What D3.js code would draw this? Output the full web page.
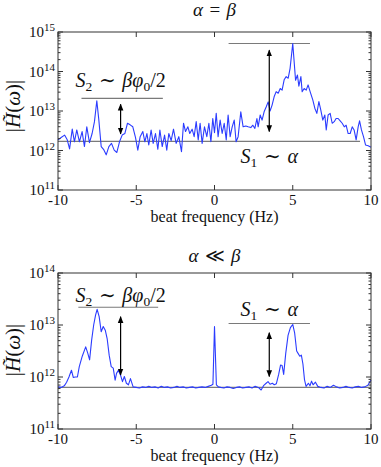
<!DOCTYPE html>
<html>
<head>
<meta charset="utf-8">
<script src="https://cdn.jsdelivr.net/npm/d3@7"></script>
<style>
  body { margin: 0; background: #fff; }
</style>
</head>
<body>
<div id="chart"></div>
<script>
// DATA
// beat frequency (Hz) and log10 |H(w)|
var topFreq = [-10.0, -9.80, -9.58, -9.41, -9.26, -9.09, -8.95, -8.80, -8.63, -8.46, -8.31, -8.16, -7.99, -7.82, -7.67, -7.52, -7.39, -7.24, -7.09, -6.92,
  -6.75, -6.58, -6.41, -6.24, -6.07, -5.90, -5.73, -5.56, -5.39, -5.22, -5.05, -4.90, -4.75, -4.58, -4.45, -4.32, -4.20, -4.05, -3.92, -3.77,
  -3.62, -3.49, -3.34, -3.19, -3.05, -2.92, -2.77, -2.62, -2.45, -2.28, -2.11, -1.98, -1.85, -1.70, -1.58, -1.43, -1.30, -1.17, -1.04, -0.92,
  -0.79, -0.64, -0.49, -0.36, -0.23, -0.11, 0.00, 0.11, 0.23, 0.36, 0.49, 0.62, 0.75, 0.87, 1.00, 1.13, 1.26, 1.38, 1.51, 1.68,
  1.83, 2.00, 2.15, 2.32, 2.45, 2.58, 2.71, 2.79, 2.92, 3.04, 3.17, 3.30, 3.43, 3.55, 3.68, 3.81, 3.94, 4.07, 4.20, 4.32,
  4.45, 4.58, 4.71, 4.83, 5.00, 5.18, 5.30, 5.39, 5.52, 5.60, 5.73, 5.86, 5.98, 6.11, 6.28, 6.41, 6.54, 6.67, 6.79, 6.92,
  7.05, 7.14, 7.26, 7.39, 7.52, 7.65, 7.77, 7.90, 8.03, 8.16, 8.29, 8.41, 8.54, 8.67, 8.80, 8.92, 9.05, 9.18, 9.27, 9.39,
  9.52, 9.65, 9.82, 10.0];
var topExp = [12.27, 12.33, 12.39, 12.27, 12.04, 12.54, 12.22, 12.52, 12.22, 12.48, 12.10, 12.60, 12.20, 12.43, 12.73, 13.26, 12.77, 12.10, 12.03, 11.89,
  12.10, 12.18, 12.01, 11.95, 12.22, 12.39, 12.43, 12.69, 12.65, 12.60, 12.33, 12.01, 12.35, 12.48, 12.22, 12.43, 12.14, 12.52, 12.18, 12.43,
  12.03, 12.52, 12.10, 12.39, 12.01, 12.43, 12.25, 12.54, 12.18, 12.35, 11.97, 12.69, 12.48, 12.60, 12.43, 12.54, 12.35, 12.73, 12.27, 12.69,
  12.18, 12.60, 12.35, 12.69, 12.22, 12.81, 12.45, 12.94, 12.35, 12.77, 12.43, 12.69, 12.27, 12.90, 12.35, 12.60, 12.77, 12.22, 12.35, 12.98,
  12.60, 12.62, 12.60, 12.58, 12.64, 12.56, 12.81, 12.60, 12.90, 12.77, 12.98, 13.10, 13.23, 13.00, 13.15, 13.36, 13.49, 13.45, 13.57, 13.53,
  13.79, 13.87, 13.83, 14.08, 14.71, 13.78, 13.91, 13.63, 13.87, 13.49, 13.57, 13.53, 13.66, 13.49, 13.28, 13.07, 12.94, 13.24, 13.03, 12.77,
  12.90, 12.52, 12.90, 12.94, 12.69, 12.73, 12.81, 12.81, 12.75, 12.69, 12.60, 12.64, 12.43, 12.43, 12.60, 12.52, 12.27, 12.60, 12.75, 12.52,
  12.35, 12.14, 12.12, 12.08];

var botFreq = [-10.0, -9.8, -9.6, -9.45, -9.3, -9.14, -9.02, -8.9, -8.76, -8.64, -8.45, -8.23, -8.10, -7.98, -7.85, -7.72, -7.60, -7.50, -7.37, -7.24,
  -7.11, -6.98, -6.86, -6.73, -6.60, -6.47, -6.35, -6.26, -6.14, -6.01, -5.88, -5.76, -5.63, -5.50, -5.37, -5.20, -5.00, -4.8, -4.6, -4.4,
  -4.2, -4.0, -3.8, -3.6, -3.4, -3.2, -3.0, -2.8, -2.6, -2.4, -2.2, -2.0, -1.8, -1.6, -1.4, -1.2, -1.0, -0.8, -0.6, -0.4,
  -0.2, -0.1, 0.0, 0.12, 0.25, 0.4, 0.6, 0.8, 1.0, 1.2, 1.4, 1.6, 1.8, 2.0, 2.2, 2.4, 2.6, 2.8, 2.98, 3.15,
  3.3, 3.42, 3.55, 3.7, 3.82, 3.95, 4.10, 4.22, 4.32, 4.42, 4.55, 4.70, 4.85, 5.00, 5.12, 5.25, 5.35, 5.45, 5.55, 5.65,
  5.75, 5.85, 6.0, 6.1, 6.2, 6.3, 6.45, 6.6, 6.8, 7.0, 7.2, 7.4, 7.6, 7.8, 8.0, 8.2, 8.4, 8.6, 8.8, 9.0,
  9.2, 9.4, 9.6, 9.8, 10.0];
var botExp = [11.81, 11.80, 11.83, 11.90, 12.00, 12.13, 11.99, 12.00, 12.00, 12.20, 12.40, 12.58, 12.46, 12.33, 12.71, 13.00, 13.19, 13.30, 13.16, 12.87,
  12.97, 12.90, 12.74, 12.42, 12.20, 12.17, 11.94, 12.07, 12.13, 12.04, 11.91, 12.01, 11.88, 11.85, 11.97, 11.81, 11.80, 11.79, 11.81, 11.80,
  11.82, 11.80, 11.81, 11.79, 11.82, 11.80, 11.81, 11.79, 11.80, 11.82, 11.80, 11.81, 11.79, 11.80, 11.81, 11.79, 11.80, 11.81, 11.80, 11.82,
  11.84, 11.86, 12.97, 11.85, 11.81, 11.80, 11.79, 11.81, 11.80, 11.78, 11.80, 11.81, 11.79, 11.80, 11.81, 11.79, 11.82, 11.80, 11.75, 11.84,
  11.88, 11.91, 11.86, 11.88, 11.85, 11.87, 12.05, 12.23, 12.22, 12.05, 12.45, 12.80, 12.95, 13.01, 12.85, 12.50, 12.45, 12.40, 12.42, 12.25,
  11.95, 11.82, 11.88, 11.83, 11.92, 11.85, 11.90, 11.82, 11.80, 11.79, 11.82, 11.80, 11.84, 11.81, 11.79, 11.80, 11.82, 11.80, 11.79, 11.81,
  11.82, 11.80, 11.81, 11.84, 11.94];

var xTicks = [-10, -5, 0, 5, 10];
var topDecades = [11, 12, 13, 14, 15];
var botDecades = [11, 12, 13, 14];

// annotation levels (log10) : [from freq, to freq, level]
var topFloor = [-10, 9.3, 12.23];
var topS1Line = [0.9, 6.1, 14.71];
var topS2Line = [-8.5, -3.3, 13.32];
var topS1Arrow = [3.5, 14.54, 12.48];   // freq, top, bottom
var topS2Arrow = [-6, 13.17, 12.42];
var botFloor = [-10, 10, 11.80];
var botS1Line = [0.9, 6.1, 13.03];
var botS2Line = [-8.7, -3.6, 13.34];
var botS1Arrow = [3.5, 12.85, 12.01];
var botS2Arrow = [-6, 13.16, 12.04];

var W = 381, H = 467;
var FONT = "'Liberation Serif', 'DejaVu Serif', serif";

var svg = d3.select("#chart").append("svg")
  .attr("width", W)
  .attr("height", H)
  .attr("font-family", FONT)
  .style("font-family", FONT);

var defs = svg.append("defs");
["head-end", "head-start"].forEach(function (id, i) {
  defs.append("marker")
    .attr("id", id)
    .attr("viewBox", "0 0 10 10")
    .attr("refX", 9).attr("refY", 5)
    .attr("markerWidth", 7).attr("markerHeight", 7)
    .attr("markerUnits", "userSpaceOnUse")
    .attr("orient", i === 0 ? "auto" : "auto-start-reverse")
    .append("path")
    .attr("d", "M0,1 L10,5 L0,9 Z")
    .attr("fill", "#000");
});

// relation symbol with TeX-like thick spaces
function rel(sym, sp) {
  return sp + sym + sp;
}

// draw one spectrum panel
function drawPanel(p) {
  var x = d3.scaleLinear().domain([-10, 10]).range([p.left, p.right]);
  var y = d3.scaleLog()
    .domain([Math.pow(10, p.decades[0]), Math.pow(10, p.decades[p.decades.length - 1])])
    .range([p.bottom, p.top]);
  var e = function (v) { return y(Math.pow(10, v)); };

  var g = svg.append("g").attr("fill", "#111");

  // title
  g.append("text")
    .attr("x", x(0)).attr("y", p.titleY)
    .attr("text-anchor", "middle")
    .style("font-size", "19px")
    .html(p.title);

  // grey floor + level lines
  [p.floor, p.s1Line, p.s2Line].forEach(function (l) {
    g.append("line")
      .attr("x1", x(l[0])).attr("x2", x(l[1]))
      .attr("y1", e(l[2])).attr("y2", e(l[2]))
      .attr("stroke", "#7a7a7a").attr("stroke-width", 1.1);
  });

  // spectrum
  var pts = p.freq.map(function (f, i) { return [f, p.exp[i]]; });
  var line = d3.line()
    .x(function (d) { return x(d[0]); })
    .y(function (d) { return e(d[1]); });
  g.append("path")
    .datum(pts)
    .attr("d", line)
    .attr("fill", "none")
    .attr("stroke", "#2b3cff")
    .attr("stroke-width", 1.1)
    .attr("stroke-linejoin", "round");

  // double arrows
  [p.s1Arrow, p.s2Arrow].forEach(function (a) {
    g.append("line")
      .attr("x1", x(a[0])).attr("x2", x(a[0]))
      .attr("y1", e(a[1])).attr("y2", e(a[2]))
      .attr("stroke", "#000").attr("stroke-width", 1.2)
      .attr("marker-start", "url(#head-start)")
      .attr("marker-end", "url(#head-end)");
  });

  // frame
  g.append("rect")
    .attr("x", p.left).attr("y", p.top)
    .attr("width", p.right - p.left).attr("height", p.bottom - p.top)
    .attr("fill", "none").attr("stroke", "#333").attr("stroke-width", 1);

  // x ticks, inward on bottom and top
  xTicks.forEach(function (t) {
    g.append("line").attr("x1", x(t)).attr("x2", x(t))
      .attr("y1", p.bottom).attr("y2", p.bottom - 5).attr("stroke", "#333");
    g.append("line").attr("x1", x(t)).attr("x2", x(t))
      .attr("y1", p.top).attr("y2", p.top + 5).attr("stroke", "#333");
    g.append("text")
      .attr("x", x(t)).attr("y", p.bottom + 14.5)
      .attr("text-anchor", "middle")
      .style("font-size", "15px")
      .text(t);
  });

  // y ticks, major + minor, inward on left and right
  p.decades.forEach(function (d, i) {
    var yy = e(d);
    [[p.left, 5], [p.right, -5]].forEach(function (s) {
      g.append("line").attr("x1", s[0]).attr("x2", s[0] + s[1])
        .attr("y1", yy).attr("y2", yy).attr("stroke", "#333");
    });
    var lab = g.append("text")
      .attr("x", p.left - 3).attr("y", yy + 5)
      .attr("text-anchor", "end")
      .style("font-size", "15px");
    lab.append("tspan").text("10");
    lab.append("tspan").attr("dy", -6).style("font-size", "11px").text(d);
    if (i < p.decades.length - 1) {
      for (var m = 2; m < 10; m++) {
        var ym = y(m * Math.pow(10, d));
        [[p.left, 2.5], [p.right, -2.5]].forEach(function (s) {
          g.append("line").attr("x1", s[0]).attr("x2", s[0] + s[1])
            .attr("y1", ym).attr("y2", ym).attr("stroke", "#333");
        });
      }
    }
  });

  // axis labels
  g.append("text")
    .attr("x", x(0)).attr("y", p.bottom + 32)
    .attr("text-anchor", "middle")
    .style("font-size", "16px")
    .text("beat frequency (Hz)");
  g.append("text")
    .attr("transform", "translate(20," + p.ylabY + ") rotate(-90)")
    .attr("text-anchor", "middle")
    .style("font-size", "21px")
    .html("|<tspan font-style='italic'>H&#771;</tspan>(<tspan font-style='italic'>&#969;</tspan>)|");

  // S labels
  var s2 = g.append("text")
    .attr("x", x(p.s2Label[0])).attr("y", e(p.s2Label[1]))
    .attr("text-anchor", "middle")
    .style("font-size", "20px");
  s2.html("<tspan font-style='italic'>S</tspan><tspan dy='4' font-size='13.5px'>2</tspan><tspan dy='-4'>" + rel("&#8764;", "&#8196;") + "</tspan>" +
    "<tspan font-style='italic'>&#946;&#966;</tspan><tspan dy='4' font-size='13.5px'>0</tspan><tspan dy='-4'>/2</tspan>");
  var s1 = g.append("text")
    .attr("x", x(p.s1Label[0])).attr("y", e(p.s1Label[1]))
    .attr("text-anchor", "middle")
    .style("font-size", "20px");
  s1.html("<tspan font-style='italic'>S</tspan><tspan dy='4' font-size='13.5px'>1</tspan><tspan dy='-4'>" + rel("&#8764;", "&#8196;") + "</tspan>" +
    "<tspan font-style='italic'>&#945;</tspan>");
}

drawPanel({
  left: 58, right: 371, top: 32, bottom: 190,
  decades: topDecades, titleY: 16, ylabY: 106,
  title: "<tspan font-style='italic'>&#945;</tspan>" + rel("=", "&#8196;") + "<tspan font-style='italic'>&#946;</tspan>",
  freq: topFreq, exp: topExp,
  floor: topFloor, s1Line: topS1Line, s2Line: topS2Line,
  s1Arrow: topS1Arrow, s2Arrow: topS2Arrow,
  s2Label: [-6, 13.6], s1Label: [3.5, 11.68]
});

drawPanel({
  left: 58, right: 371, top: 273, bottom: 429,
  decades: botDecades, titleY: 262, ylabY: 350,
  title: "<tspan font-style='italic'>&#945;</tspan>" + rel("&#8810;", "&#8196;") + "<tspan font-style='italic'>&#946;</tspan>",
  freq: botFreq, exp: botExp,
  floor: botFloor, s1Line: botS1Line, s2Line: botS2Line,
  s1Arrow: botS1Arrow, s2Arrow: botS2Arrow,
  s2Label: [-6, 13.45], s1Label: [3.5, 13.17]
});
</script>
</body>
</html>
